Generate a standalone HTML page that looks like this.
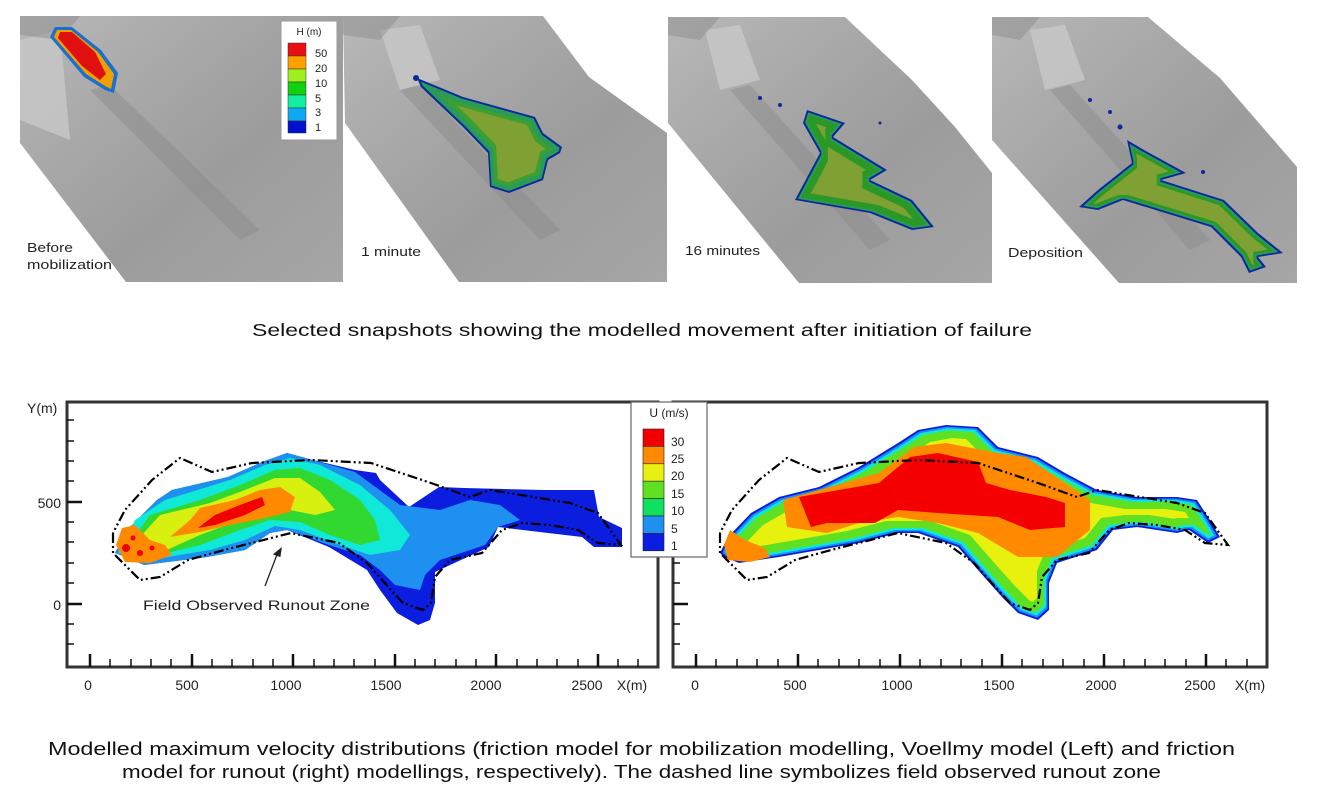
<!DOCTYPE html>
<html><head><meta charset="utf-8"><style>
html,body{margin:0;padding:0;background:#fff;}
svg{display:block;font-family:"Liberation Sans",sans-serif;}
</style></head><body>
<svg width="1320" height="802" viewBox="0 0 1320 802" xmlns="http://www.w3.org/2000/svg">
<defs>
<linearGradient id="tg" x1="0" y1="0" x2="1" y2="1">
<stop offset="0" stop-color="#b8b8b8"/><stop offset="0.3" stop-color="#a9a9a9"/><stop offset="0.6" stop-color="#9c9c9c"/><stop offset="1" stop-color="#a6a6a6"/></linearGradient>
<filter id="e1"><feMorphology operator="erode" radius="1.5"/></filter>
<filter id="e2"><feMorphology operator="erode" radius="3"/></filter>
<filter id="e3"><feMorphology operator="erode" radius="5"/></filter>
<filter id="e4"><feMorphology operator="erode" radius="8"/></filter>
<filter id="e5"><feMorphology operator="erode" radius="12"/></filter>
<path id="rb" d="M720,553 L728,537 751,513 779,497 819,487 859,467 898,443 918,430 946,425 978,427 998,447 1038,457 1065,473 1097,490 1137,497 1177,497 1197,500 1208,517 1220,537 1208,543 1189,530 1177,533 1137,527 1113,530 1097,550 1057,563 1049,583 1049,610 1038,620 1018,613 1002,597 978,570 958,547 918,533 898,533 859,543 819,550 779,557 739,563 724,557Z"/>
<path id="p2" d="M417,78 L463,97 535,117 543,133 562,147 560,153 548,160 543,180 509,193 490,187 488,153 463,127 421,87Z"/>
<path id="p3" d="M807,110 L845,123 833,137 887,170 870,180 912,200 934,227 912,230 870,213 795,200 820,153 803,123Z"/>
<path id="p4" d="M1127,140 L1144,150 1186,173 1161,180 1224,200 1258,233 1283,253 1258,257 1266,267 1249,273 1241,257 1211,227 1123,200 1098,210 1079,207 1098,190 1132,163Z"/>
</defs>

<!-- top panels terrain -->
<polygon points="20,16 343,16 343,282 126,282 20,143" fill="url(#tg)"/>
<polygon points="343,16 543,16 589,77 667,133 667,282 459,282 345,123" fill="url(#tg)"/>
<polygon points="668,17 845,17 912,80 955,127 992,173 992,283 799,283 668,123" fill="url(#tg)"/>
<polygon points="992,17 1148,17 1220,78 1297,167 1297,283 1119,283 992,140" fill="url(#tg)"/>
<g fill="#c8c8c8" opacity="0.8">
<polygon points="20,40 60,30 70,140 20,120"/>
<polygon points="380,30 420,25 440,80 400,90"/>
<polygon points="705,30 740,25 760,80 720,90"/>
<polygon points="1030,30 1065,25 1085,80 1045,90"/>
</g>
<g fill="#8a8a8a" opacity="0.45">
<polygon points="90,90 110,85 260,230 240,240"/>
<polygon points="400,90 420,85 560,230 540,240"/>
<polygon points="730,90 750,85 890,240 870,250"/>
<polygon points="1050,90 1070,85 1210,240 1190,250"/>
<polygon points="20,16 80,16 60,40 20,35"/>
<polygon points="343,16 400,16 380,40 343,35"/>
<polygon points="668,17 720,17 700,40 668,35"/>
<polygon points="992,17 1040,17 1020,40 992,35"/>
</g>

<!-- top flows -->
<polygon points="55,27 72,27 101,50 118,73 114,93 105,90 84,77 50,37" fill="#1a6fd0"/>
<polygon points="57,30 71,30 98,52 114,74 111,89 105,86 86,74 54,37" fill="#f0a000"/>
<polygon points="60,32 72,32 95,52 106,74 100,80 82,66 58,38" fill="#e01010"/>

<use href="#p2" fill="#0b2a9a"/><use href="#p2" fill="#2a9a5a" filter="url(#e1)"/><use href="#p2" fill="#3aa030" filter="url(#e3)"/><use href="#p2" fill="#7fa030" filter="url(#e4)"/>
<use href="#p3" fill="#0b2a9a"/><use href="#p3" fill="#2a9a5a" filter="url(#e1)"/><use href="#p3" fill="#2a9828" filter="url(#e2)"/><use href="#p3" fill="#7fa030" filter="url(#e4)"/>
<use href="#p4" fill="#0b2a9a"/><use href="#p4" fill="#2a9a5a" filter="url(#e1)"/><use href="#p4" fill="#2a9828" filter="url(#e2)"/><use href="#p4" fill="#7fa030" filter="url(#e3)"/>
<g fill="#0b2a9a"><circle cx="416" cy="78" r="3"/><circle cx="760" cy="98" r="2"/><circle cx="780" cy="105" r="2"/><circle cx="880" cy="123" r="1.5"/><circle cx="1090" cy="100" r="2"/><circle cx="1110" cy="112" r="2"/><circle cx="1120" cy="127" r="2.5"/><circle cx="1203" cy="172" r="2"/></g>

<!-- H legend -->
<rect x="281" y="21" width="56" height="119" fill="#fff" stroke="#999" stroke-width="1"/>
<text x="309" y="35" font-size="10" text-anchor="middle" fill="#222">H (m)</text>
<g stroke="#333" stroke-width="0.5">
<rect x="288" y="43" width="18" height="13" fill="#e81010"/>
<rect x="288" y="56" width="18" height="13" fill="#ffa000"/>
<rect x="288" y="69" width="18" height="13" fill="#a0ee20"/>
<rect x="288" y="82" width="18" height="13" fill="#10d010"/>
<rect x="288" y="95" width="18" height="13" fill="#10f0a0"/>
<rect x="288" y="108" width="18" height="13" fill="#10a8f0"/>
<rect x="288" y="121" width="18" height="12" fill="#0010d0"/>
</g>
<g font-size="11" fill="#222"><text x="315" y="57">50</text><text x="315" y="72">20</text><text x="315" y="87">10</text><text x="315" y="102">5</text><text x="315" y="116">3</text><text x="315" y="131">1</text></g>

<g font-size="13" fill="#222">
<text x="27" y="252" textLength="46" lengthAdjust="spacingAndGlyphs">Before</text><text x="27" y="269" textLength="85" lengthAdjust="spacingAndGlyphs">mobilization</text>
<text x="361" y="256" textLength="60" lengthAdjust="spacingAndGlyphs">1 minute</text>
<text x="685" y="255" textLength="75" lengthAdjust="spacingAndGlyphs">16 minutes</text>
<text x="1008" y="257" textLength="75" lengthAdjust="spacingAndGlyphs">Deposition</text>
</g>

<text x="252" y="336" font-size="17.5" textLength="780" lengthAdjust="spacingAndGlyphs" fill="#111">Selected snapshots showing the modelled movement after initiation of failure</text>

<!-- LEFT PLOT -->
<polygon fill="#0b1ee0" points="115,553 127,530 157,500 172,490 228,477 262,462 287,453 313,460 355,470 376,473 380,480 409,507 439,487 464,488 544,490 594,490 599,517 622,528 622,547 594,547 582,537 498,527 489,547 435,572 435,603 430,620 418,625 397,613 380,590 367,570 329,547 287,530 270,533 245,550 207,557 144,565 119,553"/>
<polygon fill="#1e90f0" points="115,553 127,530 157,500 172,490 228,477 262,462 287,453 313,460 355,472 400,505 440,510 470,500 500,505 520,520 498,527 485,545 440,560 425,575 420,590 395,585 380,570 360,555 329,545 287,530 270,533 245,550 207,557 144,565"/>
<polygon fill="#10e8d8" points="118,553 135,520 165,500 230,480 265,465 290,458 320,465 360,485 390,510 410,535 400,550 370,555 340,545 300,530 275,526 245,540 210,550 150,560"/>
<polygon fill="#30d830" points="125,550 150,515 200,500 240,485 275,470 300,468 330,480 360,500 375,520 380,540 360,545 330,535 300,522 270,520 240,530 200,545 150,557"/>
<polygon fill="#d8f010" points="130,548 160,515 210,503 245,490 275,478 300,478 320,492 335,510 315,515 290,510 270,512 240,520 200,535 160,553"/>
<polygon fill="#ff8a00" points="170,537 190,520 200,508 235,500 260,490 280,487 295,497 290,512 265,518 230,525 200,532"/>
<polygon fill="#ff8a00" points="116,545 122,528 135,525 150,540 165,545 172,555 150,563 125,562"/>
<polygon fill="#f00000" points="198,528 215,515 240,505 262,497 265,505 245,515 215,525"/>
<g fill="#f00000"><circle cx="126" cy="548" r="4"/><circle cx="140" cy="553" r="3"/><circle cx="152" cy="548" r="2.5"/><circle cx="133" cy="538" r="2.5"/></g>
<polyline fill="none" stroke="#000" stroke-width="2.2" stroke-dasharray="10,3,2,3,2,3" points="113,533 113,553 140,580 160,577 188,560 224,550 291,533 339,543 367,563 391,590 403,603 423,610 431,603 435,577 450,560 482,553 502,530 522,523 550,525 578,530 598,543 621,545 598,513 570,503 490,490 470,497 431,483 371,463 311,460 252,463 212,472 180,458 152,480 125,510 113,533"/>
<line x1="265" y1="586" x2="278" y2="552" stroke="#222" stroke-width="1.3"/>
<polygon points="280,546 274,556 282,556" fill="#222" transform="rotate(20 278 552)"/>
<text x="143" y="610" font-size="14" fill="#222" textLength="227" lengthAdjust="spacingAndGlyphs">Field Observed Runout Zone</text>

<rect x="67" y="402" width="591" height="265" fill="none" stroke="#333" stroke-width="3"/>
<!-- right plot -->
<use href="#rb" fill="#0b1ee0"/>
<use href="#rb" fill="#1e90f0" filter="url(#e1)"/>
<use href="#rb" fill="#10e8d8" filter="url(#e2)"/>
<use href="#rb" fill="#60e020" filter="url(#e3)"/>
<use href="#rb" fill="#e8f010" filter="url(#e5)"/>
<polygon fill="#ff8a00" points="783,500 819,490 879,473 914,447 946,443 998,453 1026,457 1050,473 1090,500 1090,530 1057,557 1018,557 978,533 938,523 898,517 859,523 827,533 787,527"/>
<polygon fill="#f40000" points="799,497 839,490 879,483 910,457 938,453 978,462 986,483 1010,490 1046,497 1065,503 1065,527 1030,530 998,517 938,513 898,510 875,523 827,523 811,527"/>
<polygon fill="#ff8a00" points="724,545 730,530 745,540 765,548 770,557 750,562 728,560"/>
<polyline fill="none" stroke="#000" stroke-width="2.2" stroke-dasharray="10,3,2,3,2,3" points="720,533 720,553 747,580 767,577 795,560 831,550 898,533 946,543 974,563 998,590 1010,603 1030,610 1038,603 1042,577 1057,560 1089,553 1109,530 1129,523 1157,525 1185,530 1205,543 1228,545 1205,513 1177,503 1097,490 1077,497 1038,483 978,463 918,460 859,463 819,472 787,458 759,480 732,510 720,533"/>
<rect x="673" y="402" width="594" height="265" fill="none" stroke="#333" stroke-width="3"/>

<!-- ticks -->
<g stroke="#111" stroke-width="2.5">
<path d="M67,502 h15 M67,604 h15 M90,667 v-13 M192,667 v-13 M293,667 v-13 M395,667 v-13 M496,667 v-13 M598,667 v-13"/>
<path d="M673,502 h15 M673,604 h15 M696,667 v-13 M798,667 v-13 M900,667 v-13 M1002,667 v-13 M1104,667 v-13 M1206,667 v-13"/>
</g>
<g stroke="#111" stroke-width="1.5">
<path d="M67,420h7M67,441h7M67,461h7M67,481h7M67,522h7M67,542h7M67,563h7M67,583h7M67,624h7M67,644h7"/>
<path d="M673,420h7M673,441h7M673,461h7M673,481h7M673,522h7M673,542h7M673,563h7M673,583h7M673,624h7M673,644h7"/>
<path d="M110,667v-8M131,667v-8M151,667v-8M171,667v-8M212,667v-8M232,667v-8M253,667v-8M273,667v-8M314,667v-8M334,667v-8M354,667v-8M375,667v-8M415,667v-8M435,667v-8M456,667v-8M476,667v-8M517,667v-8M537,667v-8M557,667v-8M578,667v-8M618,667v-8M638,667v-8"/>
<path d="M716,667v-8M737,667v-8M757,667v-8M778,667v-8M818,667v-8M839,667v-8M859,667v-8M880,667v-8M920,667v-8M941,667v-8M961,667v-8M982,667v-8M1022,667v-8M1043,667v-8M1063,667v-8M1084,667v-8M1124,667v-8M1145,667v-8M1165,667v-8M1186,667v-8M1226,667v-8M1247,667v-8"/>
</g>
<g font-size="14" fill="#222">
<text x="27" y="413">Y(m)</text>
<text x="61" y="508" text-anchor="end">500</text>
<text x="61" y="610" text-anchor="end">0</text>
<g text-anchor="middle">
<text x="88" y="690">0</text><text x="187" y="690">500</text><text x="286" y="690">1000</text><text x="386" y="690">1500</text><text x="486" y="690">2000</text><text x="587" y="690">2500</text>
<text x="695" y="690">0</text><text x="795" y="690">500</text><text x="897" y="690">1000</text><text x="999" y="690">1500</text><text x="1101" y="690">2000</text><text x="1200" y="690">2500</text>
</g>
<text x="632" y="690" text-anchor="middle">X(m)</text>
<text x="1250" y="690" text-anchor="middle">X(m)</text>
</g>

<!-- U legend -->
<rect x="631" y="402" width="76" height="155" fill="#fff" stroke="#666" stroke-width="1.2"/>
<text x="669" y="417" font-size="12" text-anchor="middle" fill="#222">U (m/s)</text>
<g stroke="#222" stroke-width="0.6">
<rect x="643" y="429" width="21" height="17.4" fill="#f00000"/>
<rect x="643" y="446.4" width="21" height="17.4" fill="#ff8a00"/>
<rect x="643" y="463.8" width="21" height="17.4" fill="#e8f010"/>
<rect x="643" y="481.2" width="21" height="17.4" fill="#60e020"/>
<rect x="643" y="498.6" width="21" height="17.4" fill="#10e060"/>
<rect x="643" y="516" width="21" height="17.4" fill="#1e90f0"/>
<rect x="643" y="533.4" width="21" height="17.4" fill="#0b1ee0"/>
</g>
<g font-size="12" fill="#222"><text x="671" y="446">30</text><text x="671" y="463">25</text><text x="671" y="480">20</text><text x="671" y="498">15</text><text x="671" y="515">10</text><text x="671" y="533">5</text><text x="671" y="550">1</text></g>

<text x="48" y="755" font-size="18" fill="#111" textLength="1187" lengthAdjust="spacingAndGlyphs">Modelled maximum velocity distributions (friction model for mobilization modelling, Voellmy model (Left) and friction</text>
<text x="122" y="778" font-size="18" fill="#111" textLength="1039" lengthAdjust="spacingAndGlyphs">model for runout (right) modellings, respectively). The dashed line symbolizes field observed runout zone</text>
</svg>
</body></html>
